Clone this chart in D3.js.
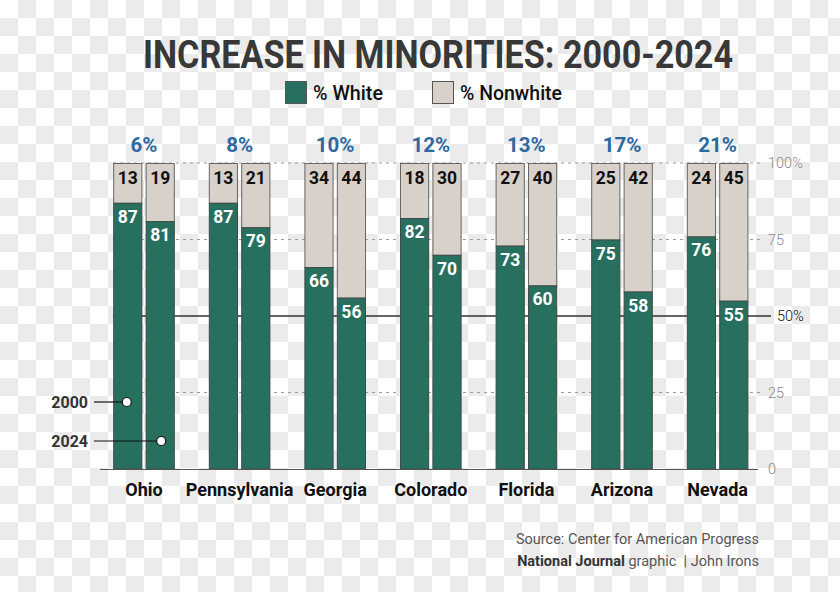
<!DOCTYPE html>
<html>
<head>
<meta charset="utf-8">
<script src="https://cdn.jsdelivr.net/npm/d3@7"></script>
<style>
  html, body { margin: 0; padding: 0; background: #fff; }
  svg { display: block; font-family: Roboto, "Noto Sans", sans-serif; }
</style>
</head>
<body>
<svg id="chart" width="840" height="592"></svg>
<script>
// ---- data ----
const states = ["Ohio", "Pennsylvania", "Georgia", "Colorado", "Florida", "Arizona", "Nevada"];
const years = ["2000", "2024"];
const white2000 = [87, 87, 66, 82, 73, 75, 76];
const white2024 = [81, 79, 56, 70, 60, 58, 55];
const nonwhite2000 = [13, 13, 34, 18, 27, 25, 24];
const nonwhite2024 = [19, 21, 44, 30, 40, 42, 45];
const increase = [6, 8, 10, 12, 13, 17, 21];
const yTicks = [0, 25, 50, 75, 100];
const yTickLabels = ["0", "25", "50%", "75", "100%"];
const legendItems = ["% White", "% Nonwhite"];

const GREEN = "#27705f", BEIGE = "#d8d1ca", BLUE = "#2b69a0";

const svg = d3.select("#chart");

// checkerboard background
const defs = svg.append("defs");
const pat = defs.append("pattern").attr("id", "checker")
  .attr("width", 36).attr("height", 36).attr("patternUnits", "userSpaceOnUse");
pat.append("rect").attr("width", 36).attr("height", 36).attr("fill", "#ffffff");
pat.append("rect").attr("x", 18).attr("y", 0).attr("width", 18).attr("height", 18).attr("fill", "#ebebeb");
pat.append("rect").attr("x", 0).attr("y", 18).attr("width", 18).attr("height", 18).attr("fill", "#ebebeb");
svg.append("rect").attr("width", 840).attr("height", 592).attr("fill", "url(#checker)");

// scales
const x = d3.scaleBand().domain(states).range([96.2, 765.4]).padding(0);
const xi = d3.scaleBand().domain(years).range([17, x.step() - 17]).paddingInner(0.1);
const y = d3.scaleLinear().domain([0, 100]).range([469, 163]);

// title
svg.append("text").attr("x", 143).attr("y", 68)
  .attr("textLength", 590).attr("lengthAdjust", "spacingAndGlyphs")
  .attr("font-size", 39).attr("font-weight", 700).attr("fill", "#383838")
  .text("INCREASE IN MINORITIES: 2000-2024");

// legend
const legX = [285, 432], legW = [70, 102];
legendItems.forEach((t, i) => {
  svg.append("rect").attr("x", legX[i] + 0.5).attr("y", 81.5).attr("width", 21).attr("height", 22)
    .attr("fill", i === 0 ? GREEN : BEIGE).attr("stroke", "#555").attr("stroke-width", 1);
  svg.append("text").attr("x", legX[i] + 28).attr("y", 100)
    .attr("textLength", legW[i]).attr("lengthAdjust", "spacingAndGlyphs")
    .attr("font-size", 20).attr("font-weight", 500).attr("fill", "#111").text(t);
});

// gridlines (dashed)
yTicks.forEach(v => {
  if (v === 25 || v === 75 || v === 100) {
    svg.append("line").attr("x1", 113).attr("x2", 764).attr("y1", y(v)).attr("y2", y(v))
      .attr("stroke", "#9a9a9a").attr("stroke-width", 1).attr("stroke-dasharray", "3,4");
  }
});
// 50% solid line
svg.append("line").attr("x1", 113).attr("x2", 771).attr("y1", y(50)).attr("y2", y(50))
  .attr("stroke", "#333").attr("stroke-width", 1.3);

// right axis labels via d3 axis
const axis = d3.axisRight(y).tickValues(yTicks).tickSize(0).tickPadding(0)
  .tickFormat((d, i) => yTickLabels[i]);
const ag = svg.append("g").attr("transform", "translate(768,0)").call(axis);
ag.select(".domain").remove();
ag.selectAll("text")
  .attr("font-family", "Roboto, sans-serif")
  .attr("font-size", 14.5).attr("font-weight", 300)
  .attr("fill", d => d === 50 ? "#111" : "#8a8a8a")
  .attr("dx", d => d === 50 ? 9 : 0);

// bars
const data = [];
states.forEach((s, i) => {
  data.push({ state: s, year: "2000", white: white2000[i], nonwhite: nonwhite2000[i] });
  data.push({ state: s, year: "2024", white: white2024[i], nonwhite: nonwhite2024[i] });
});

const g = svg.append("g");
const bar = g.selectAll("g.bar").data(data).join("g")
  .attr("transform", d => `translate(${x(d.state) + xi(d.year)},0)`);

bar.append("rect").attr("x", 0.5).attr("y", y(100) + 0.5)
  .attr("width", xi.bandwidth() - 1).attr("height", d => y(d.white) - y(100))
  .attr("fill", BEIGE).attr("stroke", "#666").attr("stroke-width", 1);
bar.append("rect").attr("x", 0.5).attr("y", d => y(d.white) + 0.5)
  .attr("width", xi.bandwidth() - 1).attr("height", d => y(0) - y(d.white) - 0.5)
  .attr("fill", GREEN).attr("stroke", "#3d4a46").attr("stroke-width", 1);

bar.append("text").attr("x", xi.bandwidth() / 2).attr("y", y(100) + 21)
  .attr("text-anchor", "middle").attr("font-size", 17.5).attr("font-weight", 700)
  .attr("fill", "#111").text(d => d.nonwhite);
bar.append("text").attr("x", xi.bandwidth() / 2).attr("y", d => y(d.white) + 20)
  .attr("text-anchor", "middle").attr("font-size", 17.5).attr("font-weight", 700)
  .attr("fill", "#fff").text(d => d.white);

// baseline
svg.append("line").attr("x1", 100).attr("x2", 758).attr("y1", y(0) + 0.5).attr("y2", y(0) + 0.5)
  .attr("stroke", "#555").attr("stroke-width", 1.2);

// increase labels
svg.append("g").selectAll("text").data(states).join("text")
  .attr("x", d => x(d) + x.step() / 2).attr("y", 152)
  .attr("text-anchor", "middle").attr("font-size", 20.5).attr("font-weight", 700)
  .attr("fill", BLUE).text((d, i) => increase[i] + "%");

// state labels (bottom axis)
const xAxis = d3.axisBottom(x).tickSize(0).tickPadding(0);
const xg = svg.append("g").attr("transform", "translate(0,481)").call(xAxis);
xg.select(".domain").remove();
xg.selectAll("text").attr("font-family", "Roboto, sans-serif")
  .attr("font-size", 18).attr("font-weight", 700).attr("fill", "#111")
  .attr("dy", "0.82em");

// year annotation
const ohio = x("Ohio");
[["2000", 402, ohio + xi("2000") + xi.bandwidth() / 2 - 1],
 ["2024", 441, ohio + xi("2024") + xi.bandwidth() / 2 + 1]].forEach(([t, yy, cx]) => {
  svg.append("text").attr("x", 88).attr("y", yy + 5.5).attr("text-anchor", "end")
    .attr("font-size", 16).attr("font-weight", 700).attr("fill", "#333").text(t);
  svg.append("line").attr("x1", 94).attr("x2", cx - 4.5).attr("y1", yy).attr("y2", yy)
    .attr("stroke", "#111").attr("stroke-width", 1.2);
  svg.append("circle").attr("cx", cx).attr("cy", yy).attr("r", 4.5)
    .attr("fill", "#fff").attr("stroke", "#111").attr("stroke-width", 1.2);
});

// footer
svg.append("text").attr("x", 759).attr("y", 544).attr("text-anchor", "end")
  .attr("font-size", 14.5).attr("fill", "#555").text("Source: Center for American Progress");
const f2 = svg.append("text").attr("x", 759).attr("y", 566).attr("text-anchor", "end")
  .attr("font-size", 14.5).attr("fill", "#555");
f2.append("tspan").attr("font-weight", 700).attr("fill", "#333").text("National Journal");
f2.append("tspan").text(" graphic\u00a0\u00a0| John Irons");
</script>
</body>
</html>
